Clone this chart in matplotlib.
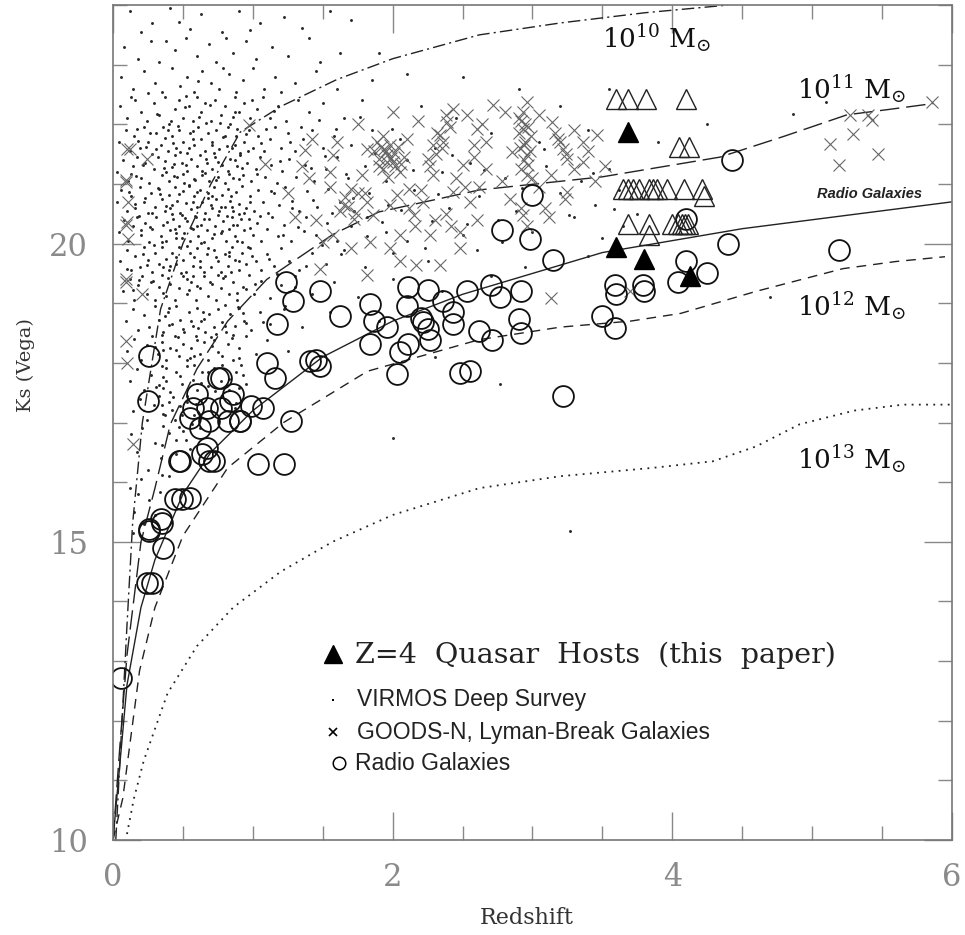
import matplotlib
matplotlib.use('Agg')
import matplotlib.pyplot as plt
from matplotlib.ticker import MultipleLocator
import numpy as np

plt.rcParams['font.family'] = 'DejaVu Serif'
plt.rcParams['mathtext.fontset'] = 'dejavuserif'

# model tracks (redshift, Ks)
m10_z = [0.02, 0.06, 0.1, 0.14, 0.21, 0.34, 0.5, 0.7, 0.91, 1.2, 1.6, 2.0, 2.62, 3.2, 3.8, 4.4]
m10_k = [10.0, 11.8, 13.6, 15.3, 17.0, 18.9, 20.0, 21.0, 21.87, 22.3, 22.75, 23.1, 23.5, 23.7, 23.87, 24.0]

m11_z = [0.0, 0.05, 0.1, 0.2, 0.3, 0.41, 0.6, 0.82, 1.1, 1.57, 1.9, 2.62, 3.5, 4.34, 4.8, 5.25, 5.55, 5.87]
m11_k = [10.0, 11.6, 13.1, 15.0, 15.9, 16.97, 17.9, 18.7, 19.4, 20.15, 20.53, 20.9, 21.12, 21.45, 21.8, 22.16, 22.25, 22.35]

rg_fit_z = [0.0, 0.05, 0.1, 0.2, 0.3, 0.5, 0.7, 1.0, 1.5, 2.0, 2.5, 3.0, 3.5, 4.0, 4.5, 5.0, 5.5, 6.0]
rg_fit_k = [10.0, 11.3, 12.6, 13.9, 14.7, 15.8, 16.5, 17.2, 18.1, 18.7, 19.15, 19.5, 19.85, 20.05, 20.25, 20.4, 20.55, 20.7]

m12_z = [0.0, 0.07, 0.19, 0.3, 0.5, 0.82, 1.22, 1.82, 2.62, 3.2, 3.7, 4.06, 4.6, 5.22, 5.6, 5.95]
m12_k = [10.0, 10.7, 12.84, 13.9, 15.1, 16.24, 17.0, 17.86, 18.39, 18.6, 18.7, 18.83, 19.2, 19.58, 19.7, 19.78]

m13_z = [0.1, 0.15, 0.22, 0.39, 0.6, 0.86, 1.2, 1.57, 2.0, 2.62, 3.2, 3.86, 4.29, 4.6, 4.91, 5.3, 5.65, 6.0]
m13_k = [10.1, 10.7, 11.33, 12.46, 13.25, 13.9, 14.5, 15.0, 15.45, 15.9, 16.1, 16.24, 16.35, 16.6, 16.97, 17.2, 17.3, 17.3]

# z=4 quasar hosts (filled) and other hosts (open)
quasar_hosts = [(3.68, 21.87), (3.6, 19.95), (3.8, 19.75), (4.13, 19.45)]
open_hosts = [(3.6, 22.42), (3.68, 22.42), (3.81, 22.42), (4.1, 22.42),
              (4.05, 21.62), (4.12, 21.62),
              (3.65, 20.92), (3.68, 20.92), (3.72, 20.92), (3.76, 20.92), (3.83, 20.92),
              (3.86, 20.92), (3.89, 20.92), (3.96, 20.92), (4.08, 20.92), (4.21, 20.92), (4.23, 20.79),
              (3.68, 20.33), (3.83, 20.33), (4.0, 20.33), (4.04, 20.33), (4.07, 20.33),
              (4.09, 20.33), (4.11, 20.33), (3.83, 20.15)]

radio_galaxies = [
    (0.06, 12.71), (0.24, 14.31), (0.28, 14.31), (0.26, 15.18), (0.35, 15.32), (0.36, 14.9),
    (0.44, 15.72), (0.49, 15.72), (0.55, 15.74), (0.26, 18.11), (0.25, 17.36), (0.47, 16.35),
    (0.34, 15.38), (0.26, 15.22),
    (0.75, 17.74), (0.6, 17.47), (0.57, 17.24), (0.55, 17.07), (0.67, 17.24), (0.69, 17.02),
    (0.77, 17.24), (0.84, 17.36), (0.82, 17.02), (0.91, 17.02), (0.86, 17.47), (0.62, 16.91),
    (0.67, 16.57), (0.69, 16.35), (0.64, 16.47),
    (1.24, 19.36), (1.29, 19.03), (1.48, 19.2), (1.17, 18.65), (1.62, 18.78), (1.84, 18.98),
    (1.87, 18.7), (1.96, 18.61), (1.84, 18.31), (2.11, 19.28), (2.25, 19.23), (2.1, 18.95),
    (2.2, 18.75), (2.22, 18.68), (2.25, 18.56), (2.27, 18.39), (2.11, 18.31), (2.05, 18.19),
    (2.36, 19.03), (2.43, 18.86), (2.43, 18.66), (2.53, 19.2), (2.03, 17.81), (2.48, 17.83),
    (2.55, 17.86), (1.41, 18.03), (1.45, 18.05), (1.48, 17.94), (1.1, 17.99), (1.16, 17.74),
    (1.07, 17.24), (0.99, 17.27), (0.91, 17.02), (1.27, 17.02), (0.77, 17.74), (0.48, 16.35),
    (1.04, 16.3), (1.22, 16.3), (0.72, 16.35),
    (4.43, 21.4), (3.0, 20.82), (2.78, 20.23), (2.98, 20.07), (3.15, 19.73), (2.7, 19.31),
    (2.77, 19.11), (2.92, 19.2), (2.9, 18.73), (2.92, 18.5), (2.71, 18.39), (2.62, 18.53),
    (3.5, 18.78), (3.59, 18.58), (3.59, 19.31), (3.6, 19.16), (3.79, 19.31), (3.8, 19.2),
    (4.1, 19.7), (4.04, 19.36), (4.25, 19.5), (4.4, 20.0), (5.19, 19.9), (3.22, 17.44), (4.1, 20.42)]

goods_lbg = [
    (0.1, 21.59), (0.09, 21.04), (0.1, 20.37), (0.09, 19.41), (0.09, 18.36), (0.1, 17.99),
    (0.14, 16.64), (0.12, 21.59), (0.09, 21.07), (0.11, 20.7), (0.09, 20.32), (0.11, 20.08),
    (0.09, 19.36), (0.24, 21.42), (1.09, 21.34), (0.97, 21.99), (0.21, 19.15),
    (1.37, 21.57), (1.57, 21.49), (2.0, 22.21), (1.89, 21.71), (1.96, 21.49), (2.0, 21.37),
    (1.93, 21.25), (2.05, 21.2), (1.82, 21.59), (1.78, 21.15), (1.7, 20.92), (1.65, 20.65),
    (1.82, 20.7), (1.86, 20.48), (1.72, 20.42), (1.57, 20.15), (1.5, 20.03), (1.7, 19.92),
    (1.84, 20.03), (1.98, 19.92), (2.05, 20.15), (2.15, 20.48), (2.22, 20.7), (2.29, 21.15),
    (2.25, 21.42), (2.29, 21.66), (2.34, 21.82), (2.39, 22.04), (2.43, 22.26), (2.53, 22.16),
    (2.6, 21.92), (2.43, 20.87), (2.5, 21.32), (2.58, 21.66), (2.48, 20.2), (2.27, 20.15),
    (2.12, 20.92), (2.17, 19.64), (2.34, 19.64), (1.82, 19.48), (2.48, 19.92), (1.48, 19.58),
    (2.03, 20.82), (1.98, 20.65),
    (2.72, 22.32), (2.96, 22.37), (2.93, 22.21), (2.93, 21.92), (2.95, 21.71), (2.96, 21.49),
    (2.97, 21.32), (3.14, 22.04), (3.18, 21.76), (3.22, 21.59), (3.25, 21.42), (3.36, 21.71),
    (3.46, 21.82), (3.36, 21.37), (2.85, 21.54), (2.67, 21.71), (2.67, 21.25), (3.25, 20.87),
    (3.23, 20.75), (3.13, 21.15), (3.09, 20.59), (2.93, 20.48), (3.13, 19.08), (3.7, 19.2),
    (5.86, 22.37), (5.27, 22.16), (5.4, 22.16), (5.43, 22.07), (5.13, 21.67), (5.29, 21.84),
    (5.47, 21.5), (5.19, 21.32),
    (1.92, 21.62), (1.95, 21.55), (2.02, 21.3), (1.9, 21.42), (1.97, 21.12), (2.08, 21.45),
    (2.9, 22.1), (2.95, 22.0), (2.91, 21.6), (2.99, 21.8), (2.94, 21.4), (3.0, 21.1),
    (2.31, 21.5), (2.36, 21.7), (2.41, 21.95), (1.75, 20.85), (1.62, 20.55), (2.2, 20.9),
    (2.38, 20.5), (2.55, 20.7), (2.62, 20.95), (2.78, 21.05), (2.84, 20.75), (3.3, 21.9),
    (3.4, 21.55), (3.52, 21.3), (3.05, 20.95), (1.45, 20.4), (1.55, 20.95), (1.4, 21.1),
    (2.1, 21.75), (2.18, 22.05), (1.75, 22.0), (2.3, 20.4), (2.05, 19.7), (2.6, 20.4),
    # dense knots
    (1.94, 21.58), (1.98, 21.66), (2.01, 21.52), (1.96, 21.36), (1.9, 21.3), (2.04, 21.62),
    (1.99, 21.44), (1.87, 21.55), (2.06, 21.33), (1.93, 21.8), (2.92, 22.05), (2.97, 21.95),
    (2.94, 21.65), (2.9, 21.85), (2.98, 21.55), (2.92, 21.25), (2.96, 21.15), (3.16, 21.85),
    (3.2, 21.7), (3.24, 21.5), (2.35, 21.6), (2.32, 21.85), (2.38, 22.15), (2.27, 21.3),
    (2.45, 21.1), (2.52, 20.95), (1.68, 20.62), (1.66, 20.78), (1.74, 20.52), (1.8, 20.85),
    (2.12, 20.6), (2.16, 20.3), (2.42, 20.3), (2.92, 20.6), (2.96, 20.3), (3.12, 20.45),
    (1.35, 21.3), (1.42, 21.75), (1.6, 21.7), (1.55, 21.2), (2.58, 21.45), (2.64, 22.0),
    (2.8, 22.2), (3.05, 22.15), (3.3, 21.25), (3.45, 21.05), (1.25, 20.85), (1.3, 20.45)]

virmos = [
    # top, sparse
    (0.12, 23.9), (0.28, 23.7), (0.41, 23.95), (0.55, 23.6), (0.63, 23.85), (0.78, 23.55), (0.9, 23.9),
    (1.05, 23.7), (1.22, 23.8), (1.35, 23.62), (1.55, 23.9), (0.2, 23.55), (0.47, 23.72), (0.98, 23.58),
    (1.7, 23.75),
    (0.08, 23.3), (0.18, 23.1), (0.27, 23.4), (0.33, 23.05), (0.44, 23.25), (0.52, 23.45), (0.6, 23.15),
    (0.69, 23.35), (0.74, 23.05), (0.86, 23.2), (0.95, 23.4), (1.02, 23.1), (1.14, 23.3), (1.25, 23.15),
    (1.4, 23.45), (1.48, 23.05), (0.38, 23.4), (0.81, 23.45), (1.62, 23.2),
    (0.06, 22.8), (0.14, 22.6), (0.22, 22.9), (0.3, 22.7), (0.35, 22.55), (0.42, 22.95), (0.48, 22.65),
    (0.53, 22.8), (0.58, 22.55), (0.64, 22.9), (0.7, 22.7), (0.76, 22.6), (0.83, 22.85), (0.88, 22.55),
    (0.93, 22.75), (1.0, 22.95), (1.08, 22.6), (1.16, 22.8), (1.3, 22.7), (1.45, 22.9), (1.6, 22.6),
    (1.85, 22.75), (2.1, 22.85), (0.25, 22.52), (0.61, 22.72), (0.79, 22.95), (1.2, 22.55),
    # 22 - 22.5
    (0.05, 22.3), (0.1, 22.1), (0.16, 22.4), (0.2, 22.2), (0.24, 22.05), (0.29, 22.35), (0.33, 22.15),
    (0.37, 22.45), (0.4, 22.0), (0.44, 22.25), (0.47, 22.4), (0.5, 22.1), (0.54, 22.3), (0.57, 22.05),
    (0.6, 22.45), (0.63, 22.2), (0.66, 22.35), (0.7, 22.05), (0.73, 22.4), (0.77, 22.15), (0.8, 22.3),
    (0.84, 22.0), (0.87, 22.45), (0.9, 22.2), (0.94, 22.35), (0.98, 22.1), (1.03, 22.25), (1.07, 22.45),
    (1.12, 22.1), (1.18, 22.3), (1.24, 22.05), (1.32, 22.4), (1.4, 22.2), (1.5, 22.35), (1.65, 22.1),
    (1.78, 22.4), (2.2, 22.3), (2.45, 22.1), (0.13, 22.45), (0.52, 22.48), (0.86, 22.12),
    # 21.5 - 22
    (0.04, 21.7), (0.09, 21.9), (0.12, 21.55), (0.15, 21.8), (0.19, 21.6), (0.22, 21.95), (0.25, 21.7),
    (0.28, 21.5), (0.31, 21.85), (0.34, 21.65), (0.36, 21.95), (0.39, 21.55), (0.42, 21.8), (0.45, 21.6),
    (0.47, 21.9), (0.5, 21.7), (0.53, 21.52), (0.55, 21.85), (0.58, 21.65), (0.61, 21.95), (0.63, 21.75),
    (0.66, 21.55), (0.68, 21.85), (0.71, 21.65), (0.74, 21.9), (0.76, 21.58), (0.79, 21.78), (0.82, 21.95),
    (0.85, 21.6), (0.88, 21.8), (0.91, 21.52), (0.94, 21.7), (0.97, 21.9), (1.0, 21.6), (1.04, 21.8),
    (1.08, 21.55), (1.12, 21.75), (1.16, 21.95), (1.2, 21.6), (1.25, 21.85), (1.3, 21.55), (1.36, 21.75),
    (1.42, 21.9), (1.5, 21.6), (1.58, 21.8), (1.7, 21.65), (1.85, 21.9), (2.05, 21.75), (2.3, 21.6),
    (2.7, 21.85), (3.05, 21.7), (3.4, 21.9), (0.43, 21.68), (0.57, 21.75), (0.72, 21.52), (0.89, 21.92),
    (0.18, 21.72), (1.06, 21.68),
    # 21 - 21.5
    (0.03, 21.2), (0.07, 21.4), (0.11, 21.05), (0.14, 21.3), (0.17, 21.45), (0.2, 21.1), (0.23, 21.35),
    (0.26, 21.02), (0.29, 21.25), (0.32, 21.45), (0.35, 21.15), (0.37, 21.38), (0.4, 21.05), (0.42, 21.28),
    (0.44, 21.48), (0.46, 21.12), (0.49, 21.35), (0.51, 21.02), (0.53, 21.22), (0.56, 21.42), (0.58, 21.08),
    (0.6, 21.3), (0.62, 21.48), (0.64, 21.15), (0.67, 21.35), (0.69, 21.05), (0.71, 21.25), (0.73, 21.45),
    (0.75, 21.12), (0.78, 21.32), (0.8, 21.02), (0.82, 21.22), (0.84, 21.42), (0.86, 21.1), (0.89, 21.3),
    (0.91, 21.48), (0.93, 21.15), (0.96, 21.35), (0.99, 21.05), (1.02, 21.25), (1.05, 21.45), (1.09, 21.12),
    (1.13, 21.32), (1.17, 21.02), (1.21, 21.22), (1.26, 21.42), (1.31, 21.12), (1.37, 21.32), (1.44, 21.05),
    (1.52, 21.25), (1.6, 21.45), (1.68, 21.1), (1.8, 21.3), (1.95, 21.05), (2.1, 21.4), (2.35, 21.2),
    (2.55, 21.35), (2.8, 21.1), (3.1, 21.3), (3.35, 21.05), (3.55, 21.25), (0.52, 21.31), (0.66, 21.19),
    (0.87, 21.4), (0.38, 21.2),
    # 20.5 - 21
    (0.03, 20.7), (0.06, 20.9), (0.1, 20.55), (0.13, 20.8), (0.16, 20.6), (0.19, 20.95), (0.22, 20.7),
    (0.25, 20.52), (0.27, 20.85), (0.3, 20.62), (0.33, 20.92), (0.35, 20.75), (0.37, 20.55), (0.4, 20.82),
    (0.42, 20.65), (0.44, 20.95), (0.46, 20.72), (0.48, 20.52), (0.5, 20.88), (0.52, 20.68), (0.54, 20.98),
    (0.56, 20.58), (0.58, 20.8), (0.6, 20.62), (0.62, 20.9), (0.64, 20.7), (0.66, 20.52), (0.68, 20.85),
    (0.7, 20.65), (0.72, 20.95), (0.74, 20.75), (0.76, 20.55), (0.78, 20.82), (0.8, 20.62), (0.82, 20.92),
    (0.84, 20.72), (0.86, 20.54), (0.88, 20.86), (0.9, 20.66), (0.92, 20.96), (0.95, 20.6), (0.98, 20.8),
    (1.01, 20.55), (1.04, 20.9), (1.07, 20.7), (1.11, 20.52), (1.15, 20.85), (1.19, 20.65), (1.23, 20.95),
    (1.28, 20.72), (1.33, 20.55), (1.39, 20.88), (1.46, 20.62), (1.54, 20.92), (1.62, 20.7), (1.72, 20.55),
    (1.83, 20.85), (1.97, 20.65), (2.15, 20.9), (2.4, 20.6), (2.62, 20.8), (2.88, 20.55), (3.2, 20.85),
    (3.45, 20.65), (3.62, 20.9), (0.41, 20.6), (0.57, 20.7), (0.71, 20.8), (0.85, 20.62), (0.47, 20.84),
    # 20 - 20.5
    (0.04, 20.2), (0.08, 20.4), (0.11, 20.05), (0.14, 20.3), (0.17, 20.45), (0.2, 20.15), (0.23, 20.35),
    (0.26, 20.02), (0.28, 20.25), (0.31, 20.45), (0.34, 20.12), (0.36, 20.32), (0.38, 20.05), (0.41, 20.22),
    (0.43, 20.42), (0.45, 20.1), (0.47, 20.3), (0.49, 20.48), (0.51, 20.18), (0.53, 20.38), (0.55, 20.05),
    (0.57, 20.25), (0.59, 20.45), (0.61, 20.12), (0.63, 20.32), (0.65, 20.02), (0.67, 20.22), (0.69, 20.42),
    (0.71, 20.1), (0.73, 20.3), (0.75, 20.48), (0.77, 20.18), (0.79, 20.38), (0.81, 20.05), (0.83, 20.25),
    (0.85, 20.45), (0.87, 20.12), (0.89, 20.32), (0.92, 20.02), (0.94, 20.22), (0.97, 20.42), (1.0, 20.15),
    (1.03, 20.35), (1.06, 20.05), (1.1, 20.25), (1.14, 20.45), (1.18, 20.12), (1.22, 20.32), (1.27, 20.05),
    (1.32, 20.28), (1.38, 20.45), (1.45, 20.15), (1.53, 20.35), (1.6, 20.05), (1.7, 20.3), (1.82, 20.45),
    (1.95, 20.2), (2.1, 20.05), (2.28, 20.38), (2.5, 20.15), (2.75, 20.4), (3.0, 20.2), (3.3, 20.45),
    (3.5, 20.1), (0.9, 20.5), (0.6, 20.3), (0.44, 20.25),
    # 19.5 - 20
    (0.05, 19.7), (0.1, 19.9), (0.13, 19.55), (0.16, 19.8), (0.19, 19.6), (0.22, 19.95), (0.25, 19.72),
    (0.28, 19.52), (0.3, 19.85), (0.33, 19.65), (0.35, 19.95), (0.38, 19.75), (0.4, 19.55), (0.42, 19.85),
    (0.45, 19.65), (0.47, 19.95), (0.5, 19.72), (0.52, 19.52), (0.55, 19.85), (0.57, 19.62), (0.6, 19.92),
    (0.62, 19.7), (0.65, 19.52), (0.67, 19.82), (0.7, 19.6), (0.72, 19.9), (0.75, 19.7), (0.77, 19.52),
    (0.8, 19.82), (0.82, 19.62), (0.85, 19.95), (0.87, 19.72), (0.9, 19.55), (0.92, 19.85), (0.95, 19.65),
    (0.98, 19.92), (1.02, 19.7), (1.06, 19.55), (1.1, 19.82), (1.15, 19.62), (1.2, 19.92), (1.26, 19.7),
    (1.33, 19.55), (1.42, 19.85), (1.52, 19.65), (1.65, 19.9), (1.8, 19.6), (2.0, 19.85), (2.25, 19.7),
    (2.6, 19.9), (2.95, 19.6), (3.4, 19.8), (0.36, 19.6), (0.58, 19.78), (0.83, 19.8),
    # 19 - 19.5
    (0.07, 19.2), (0.12, 19.4), (0.15, 19.05), (0.18, 19.3), (0.21, 19.45), (0.24, 19.15), (0.27, 19.35),
    (0.3, 19.05), (0.33, 19.28), (0.35, 19.48), (0.38, 19.12), (0.41, 19.32), (0.44, 19.05), (0.47, 19.25),
    (0.5, 19.45), (0.53, 19.15), (0.56, 19.35), (0.59, 19.05), (0.62, 19.25), (0.65, 19.45), (0.68, 19.12),
    (0.71, 19.32), (0.74, 19.05), (0.77, 19.25), (0.8, 19.45), (0.83, 19.15), (0.86, 19.35), (0.89, 19.05),
    (0.93, 19.28), (0.97, 19.48), (1.01, 19.15), (1.06, 19.38), (1.12, 19.08), (1.2, 19.3), (1.3, 19.45),
    (1.42, 19.15), (1.58, 19.35), (1.75, 19.1), (2.0, 19.4), (2.35, 19.2), (2.7, 19.45), (0.39, 19.42),
    (0.54, 19.22),
    # 18.5 - 19
    (0.09, 18.7), (0.14, 18.9), (0.18, 18.55), (0.22, 18.8), (0.26, 18.6), (0.3, 18.95), (0.33, 18.72),
    (0.36, 18.52), (0.39, 18.85), (0.42, 18.65), (0.45, 18.95), (0.48, 18.72), (0.51, 18.52), (0.54, 18.85),
    (0.57, 18.62), (0.6, 18.92), (0.63, 18.7), (0.66, 18.52), (0.69, 18.82), (0.72, 18.6), (0.75, 18.9),
    (0.78, 18.68), (0.81, 18.52), (0.84, 18.82), (0.87, 18.62), (0.9, 18.92), (0.94, 18.7), (0.99, 18.55),
    (1.05, 18.85), (1.12, 18.65), (1.22, 18.9), (1.35, 18.6), (1.55, 18.85), (1.9, 18.7), (0.37, 18.78),
    (0.61, 18.58),
    # 18 - 18.5
    (0.1, 18.2), (0.15, 18.4), (0.2, 18.05), (0.24, 18.3), (0.28, 18.45), (0.32, 18.15), (0.35, 18.35),
    (0.38, 18.05), (0.41, 18.25), (0.44, 18.45), (0.47, 18.12), (0.5, 18.32), (0.53, 18.05), (0.56, 18.25),
    (0.59, 18.45), (0.62, 18.15), (0.65, 18.35), (0.68, 18.05), (0.71, 18.28), (0.74, 18.48), (0.78, 18.12),
    (0.82, 18.32), (0.86, 18.05), (0.9, 18.25), (0.95, 18.45), (1.02, 18.15), (1.1, 18.38), (1.25, 18.2),
    (0.36, 18.22), (0.58, 18.12),
    # 17.5 - 18
    (0.12, 17.7), (0.17, 17.9), (0.22, 17.55), (0.27, 17.8), (0.31, 17.6), (0.35, 17.95), (0.38, 17.7),
    (0.41, 17.52), (0.45, 17.85), (0.49, 17.65), (0.53, 17.95), (0.57, 17.72), (0.6, 17.55), (0.64, 17.85),
    (0.68, 17.62), (0.72, 17.92), (0.77, 17.7), (0.83, 17.55), (0.88, 17.85), (0.95, 17.65), (0.36, 17.58),
    (0.9, 17.58),
    # 17 - 17.5
    (0.14, 17.2), (0.19, 17.4), (0.24, 17.05), (0.29, 17.3), (0.33, 17.45), (0.36, 17.15), (0.4, 17.35),
    (0.44, 17.05), (0.48, 17.28), (0.53, 17.45), (0.58, 17.12), (0.63, 17.38), (0.7, 17.2), (0.78, 17.42),
    (0.87, 17.25), (0.35, 17.3),
    # faint tail and outliers
    (0.13, 16.8), (0.17, 16.5), (0.21, 16.9), (0.25, 16.2), (0.3, 16.65), (0.34, 16.4), (0.36, 16.95),
    (0.4, 16.1), (0.45, 16.7), (0.5, 16.85), (0.55, 16.55), (0.62, 16.9), (0.2, 16.05),
    (0.12, 15.9), (0.15, 15.5), (0.18, 15.8), (0.22, 15.3), (0.26, 15.7), (0.14, 15.15), (0.3, 15.45),
    (3.27, 15.18), (2.0, 16.74), (2.77, 17.64), (4.7, 19.1), (4.86, 22.17), (5.1, 22.37), (2.3, 18.1),
    (3.9, 21.7), (3.55, 22.6), (3.2, 22.3), (2.9, 22.6), (1.9, 23.2), (2.5, 22.8), (3.75, 20.5),
    (3.65, 20.3), (3.6, 20.0), (4.25, 22.0),
    # second pass over the crowded core
    (0.163, 21.13), (0.187, 20.47), (0.213, 19.83), (0.238, 21.62), (0.262, 20.28), (0.287, 19.37),
    (0.312, 22.18), (0.337, 20.83), (0.356, 19.18), (0.371, 21.77), (0.388, 20.37), (0.403, 18.92),
    (0.418, 22.06), (0.433, 21.14), (0.451, 19.77), (0.466, 18.44), (0.481, 21.53), (0.497, 20.09),
    (0.512, 22.29), (0.526, 19.41), (0.541, 20.97), (0.556, 18.71), (0.571, 21.88), (0.586, 20.46),
    (0.603, 19.29), (0.617, 22.13), (0.632, 20.01), (0.647, 18.86), (0.662, 21.42), (0.677, 19.93),
    (0.693, 22.33), (0.708, 20.59), (0.723, 18.39), (0.738, 21.07), (0.752, 19.47), (0.767, 22.02),
    (0.783, 20.21), (0.798, 18.97), (0.813, 21.63), (0.828, 19.86), (0.843, 20.79), (0.858, 18.47),
    (0.873, 22.21), (0.888, 19.17), (0.903, 21.09), (0.918, 20.41), (0.933, 18.83), (0.948, 21.83),
    (0.963, 19.94), (0.978, 20.69), (0.993, 22.41), (1.013, 19.33), (1.033, 21.17), (1.053, 20.47),
    (1.073, 18.68), (1.093, 21.93), (1.113, 19.74), (1.133, 20.88), (1.153, 22.23), (1.173, 19.49),
    (1.193, 21.38), (1.213, 20.14), (1.233, 18.96), (1.263, 21.71), (1.283, 20.59), (1.303, 19.27),
    (1.343, 21.96), (1.363, 20.21), (1.383, 19.63), (1.413, 21.27), (1.433, 20.73), (1.473, 22.07),
    (1.493, 19.97), (1.513, 21.47), (1.563, 20.52), (1.593, 21.92), (1.633, 19.82), (1.663, 21.17),
    (1.713, 20.77), (1.763, 22.12), (1.813, 20.12), (1.873, 21.52), (1.923, 20.37), (1.993, 21.92),
    (2.063, 20.57), (2.143, 21.23), (2.233, 19.93), (2.323, 20.83), (2.423, 21.48), (2.533, 20.33),
    (2.653, 21.23), (2.783, 20.03), (2.923, 20.93), (3.083, 21.58), (3.263, 20.48), (3.433, 21.18),
    (3.583, 20.58),
    (0.347, 20.03), (0.362, 21.27), (0.377, 20.63), (0.392, 21.91), (0.407, 19.63), (0.422, 20.49),
    (0.437, 21.33), (0.452, 20.17), (0.468, 21.97), (0.483, 19.51), (0.498, 21.16), (0.513, 20.43),
    (0.528, 19.96), (0.543, 21.61), (0.558, 20.27), (0.573, 19.46), (0.588, 21.06), (0.604, 20.86),
    (0.619, 19.61), (0.634, 21.21), (0.649, 20.41), (0.664, 22.03), (0.679, 20.76), (0.694, 19.36),
    (0.709, 21.71), (0.724, 20.16), (0.739, 19.78), (0.754, 21.36), (0.769, 20.61), (0.784, 19.42),
    (0.799, 21.81), (0.814, 20.46), (0.829, 21.17), (0.844, 19.53), (0.859, 20.31), (0.874, 21.66),
    (0.889, 20.04), (0.904, 19.71), (0.919, 21.26), (0.934, 20.51), (0.949, 19.24), (0.964, 21.56),
    (0.979, 20.26), (0.994, 19.79), (0.322, 20.93), (0.306, 21.58), (0.291, 19.97), (0.276, 20.51),
    (0.262, 21.86), (0.246, 19.64), (0.232, 20.76), (0.217, 21.31), (0.201, 20.22), (0.186, 19.39),
    (0.172, 21.93), (0.156, 20.66), (0.141, 19.23), (0.127, 21.17), (0.112, 20.87), (0.097, 19.58),
    (0.303, 18.27), (0.327, 17.63), (0.352, 18.47), (0.377, 17.91), (0.402, 18.63), (0.427, 17.43),
    (0.452, 18.21), (0.477, 17.78), (0.502, 18.56), (0.527, 17.34), (0.552, 18.08), (0.577, 17.97),
    (0.602, 18.38), (0.627, 17.66), (0.652, 18.73), (0.677, 17.84), (0.702, 18.44), (0.727, 17.53),
    (0.752, 18.18), (0.777, 17.97), (0.802, 18.62), (0.827, 17.73), (0.852, 18.41), (0.877, 17.32),
    (0.902, 18.09), (0.927, 17.79), (0.952, 18.67), (0.347, 16.63), (0.373, 17.13), (0.397, 16.83),
    (0.422, 17.21), (0.447, 16.47), (0.473, 16.92), (0.497, 17.12), (0.522, 16.71), (0.567, 16.97),
    (0.597, 17.31), (0.347, 16.12), (0.333, 15.83), (0.357, 17.77), (0.893, 18.93), (0.913, 17.97)]

mass_labels = [('10$^{10}$ M$_{\\odot}$', 3.5, 23.45), ('10$^{11}$ M$_{\\odot}$', 4.89, 22.6),
               ('10$^{12}$ M$_{\\odot}$', 4.89, 18.95), ('10$^{13}$ M$_{\\odot}$', 4.89, 16.39)]

fig = plt.figure(figsize=(9.65, 9.35), dpi=100)
ax = fig.add_axes([0.1171, 0.1016, 0.8694, 0.8930])

ln = '#222222'
ax.plot(m10_z, m10_k, color=ln, lw=1.0, ls=(0, (9, 3, 1.5, 3)))
ax.plot(m11_z, m11_k, color=ln, lw=1.0, ls=(0, (14, 5)))
ax.plot(rg_fit_z, rg_fit_k, color=ln, lw=1.0, ls='-')
ax.plot(m12_z, m12_k, color=ln, lw=1.0, ls=(0, (7, 5)))
ax.plot(m13_z, m13_k, color=ln, lw=1.3, ls=(0, (1, 3)))

vz, vk = zip(*virmos)
ax.plot(vz, vk, ls='none', marker='o', ms=2.1, mew=0, color='#262626')

gz, gk = zip(*goods_lbg)
ax.plot(gz, gk, ls='none', marker='x', ms=9, mew=0.8, color='#666666')

rz, rk = zip(*radio_galaxies)
ax.plot(rz, rk, ls='none', marker='o', ms=15, mfc='none', mec='#111111', mew=1.3)

oz, ok = zip(*open_hosts)
ax.plot(oz, ok, ls='none', marker='^', ms=14, mfc='none', mec='#222222', mew=1.0)

qz, qk = zip(*quasar_hosts)
ax.plot(qz, qk, ls='none', marker='^', ms=14, color='black')

for txt, x, y in mass_labels:
    ax.text(x, y, txt, fontsize=19, va='center', ha='left', color='#111111')

ax.text(5.035, 20.84, 'Radio Galaxies', fontsize=10.5, fontweight='bold', fontstyle='italic',
        family='Liberation Sans', va='center', ha='left', color='#222222')

# legend drawn by hand
ax.plot([0.262], [0.223], transform=ax.transAxes, marker='^', ms=13, color='black', ls='none')
ax.text(0.2885, 0.221, 'Z=4  Quasar  Hosts  (this  paper)', transform=ax.transAxes, fontsize=20.5,
        va='center', ha='left', color='#222222')
ax.plot([0.262], [0.168], transform=ax.transAxes, marker='s', ms=2, mew=0, color='black', ls='none')
ax.text(0.291, 0.168, 'VIRMOS Deep Survey', transform=ax.transAxes, fontsize=16.5,
        family='Liberation Sans', va='center', ha='left', color='#222222')
ax.plot([0.262], [0.129], transform=ax.transAxes, marker='x', ms=6, mew=1.2, color='black', ls='none')
ax.text(0.291, 0.129, 'GOODS-N, Lyman-Break Galaxies', transform=ax.transAxes, fontsize=16.5,
        family='Liberation Sans', va='center', ha='left', color='#222222')
ax.plot([0.269], [0.092], transform=ax.transAxes, marker='o', ms=9, mfc='none', mec='black',
        mew=1.1, ls='none')
ax.text(0.288, 0.092, 'Radio Galaxies', transform=ax.transAxes, fontsize=16.5,
        family='Liberation Sans', va='center', ha='left', color='#222222')

ax.set_xlim(0, 6)
ax.set_ylim(10, 24)
ax.set_xticks([0, 2, 4, 6])
ax.set_yticks([10, 15, 20])
ax.xaxis.set_minor_locator(MultipleLocator(0.5))
ax.yaxis.set_minor_locator(MultipleLocator(1))
ax.tick_params(which='both', direction='in', top=True, right=True, color='#888888', width=1.0)
ax.tick_params(which='major', length=20, labelsize=22, labelcolor='#8a8a8a')
ax.tick_params(which='minor', length=10)
ax.tick_params(axis='x', which='major', pad=16)
ax.tick_params(axis='y', which='major', pad=18)
for sp in ax.spines.values():
    sp.set_color('#777777')
    sp.set_linewidth(1.2)

ax.set_xlabel('Redshift', fontsize=16, color='#333333')
ax.set_ylabel('Ks (Vega)', fontsize=14, color='#333333')
ax.xaxis.set_label_coords(0.493, -0.08)
ax.yaxis.set_label_coords(-0.093, 0.569)

fig.savefig('out.png', dpi=100)
